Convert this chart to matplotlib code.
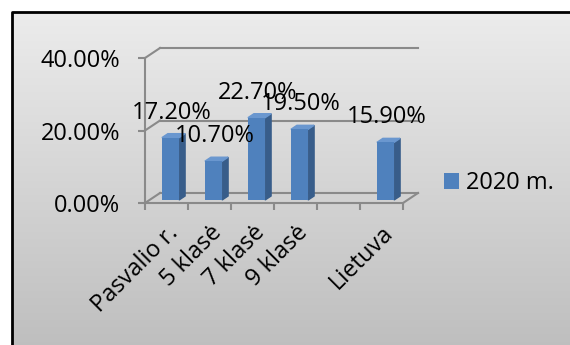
import numpy as np
import matplotlib.pyplot as plt
from matplotlib.patches import Polygon, Patch
from matplotlib.ticker import FuncFormatter

plt.rcParams['font.family'] = ['Open Sans', 'DejaVu Sans']

# chart data
categories = ['Pasvalio r.', '5 klasė', '7 klasė', '9 klasė', '', 'Lietuva']
values = [0.172, 0.107, 0.227, 0.195, np.nan, 0.159]
series_name = '2020 m.'
y_ticks = [0.0, 0.2, 0.4]

W, H = 570, 345
FONT = 17
GRID = '#8a8a8a'
FRONT = '#4f81bd'
SIDE = '#385d8a'
TOP = '#6a97cf'

fig = plt.figure(figsize=(W / 100, H / 100), dpi=100)
fig.patch.set_facecolor('white')

# gray gradient panel with black frame
bg = fig.add_axes([0, 0, 1, 1], zorder=-1)
shade = np.linspace(0.925, 0.745, 256).reshape(-1, 1, 1) * np.ones((1, 1, 3))
bg.imshow(shade, extent=(12, W + 5, H + 5, 12), aspect='auto')
bg.plot([12, 12, W + 5], [H + 5, 12, 12], color='black', lw=2, solid_capstyle='projecting')
bg.set_xlim(0, W)
bg.set_ylim(H, 0)
bg.axis('off')

# plot area in pixels
x0, x1, y0, y1 = 145, 403, 203, 58
ax = fig.add_axes([x0 / W, (H - y0) / H, (x1 - x0) / W, (y0 - y1) / H])
n = len(categories)
ax.set_xlim(-0.5, n - 0.5)
ax.set_ylim(0, 0.4)
ax.patch.set_visible(False)

# pixel -> data unit helpers for the fake 3d depth
ux = n / (x1 - x0)
uy = 0.4 / (y0 - y1)
WX, WY = 15 * ux, 10 * uy        # wall depth
FX, FY = 4 * ux, 3 * uy          # bar front offset
BX, BY = 6 * ux, 4 * uy          # bar depth
bw = 0.4

for s in ['top', 'right']:
    ax.spines[s].set_visible(False)
for s in ['left', 'bottom']:
    ax.spines[s].set_color(GRID)
    ax.spines[s].set_linewidth(1.5)

# back wall gridlines and side wall edges
for y in y_ticks:
    ax.plot([-0.5 + WX, n - 0.5 + WX], [y + WY, y + WY], color=GRID, lw=1.5, clip_on=False, zorder=1)
    ax.plot([-0.5, -0.5 + WX], [y, y + WY], color=GRID, lw=1.5, clip_on=False, zorder=1)
ax.plot([n - 0.5, n - 0.5 + WX], [0, WY], color=GRID, lw=1.5, clip_on=False, zorder=1)

xs = np.arange(n)
vals = np.array(values, dtype=float)
bars = ax.bar(xs + FX, vals, width=bw, bottom=FY, color=FRONT, zorder=4, clip_on=False)

for x, v in zip(xs, vals):
    if np.isnan(v):
        continue
    l, r = x + FX - bw / 2, x + FX + bw / 2
    side = [(r, FY), (r, FY + v), (r + BX, FY + v + BY), (r + BX, FY + BY)]
    top = [(l, FY + v), (r, FY + v), (r + BX, FY + v + BY), (l + BX, FY + v + BY)]
    ax.add_patch(Polygon(side, closed=True, color=SIDE, zorder=3, clip_on=False))
    ax.add_patch(Polygon(top, closed=True, color=TOP, zorder=3, clip_on=False))
    ax.annotate(f'{v:.2%}', (x, v), xytext=(5.5, 28), textcoords='offset pixels',
                ha='center', va='center', fontsize=FONT, color='black',
                annotation_clip=False, zorder=6)

# y axis
ax.set_yticks(y_ticks)
ax.yaxis.set_major_formatter(FuncFormatter(lambda v, p: f'{v:.2%}'))
ax.tick_params(axis='y', direction='out', length=5, width=1.5, color=GRID,
               labelsize=FONT, pad=13)

# x axis: ticks between categories, labels at centers
ax.set_xticks(np.arange(n + 1) - 0.5)
ax.set_xticklabels([])
ax.set_xticks(xs, minor=True)
ax.set_xticklabels(categories, minor=True, rotation=45, ha='right',
                   rotation_mode='anchor', fontsize=FONT)
ax.tick_params(axis='x', which='major', direction='out', length=5, width=1.5, color=GRID)
ax.tick_params(axis='x', which='minor', length=0, pad=13)

fig.legend(handles=[Patch(facecolor=FRONT)], labels=[series_name],
           loc='center left', bbox_to_anchor=(427 / W, 1 - 183 / H),
           frameon=False, fontsize=FONT, handlelength=0.65, handleheight=0.65,
           handletextpad=0.3, borderpad=0.2)

fig.savefig('out.png', dpi=100)
